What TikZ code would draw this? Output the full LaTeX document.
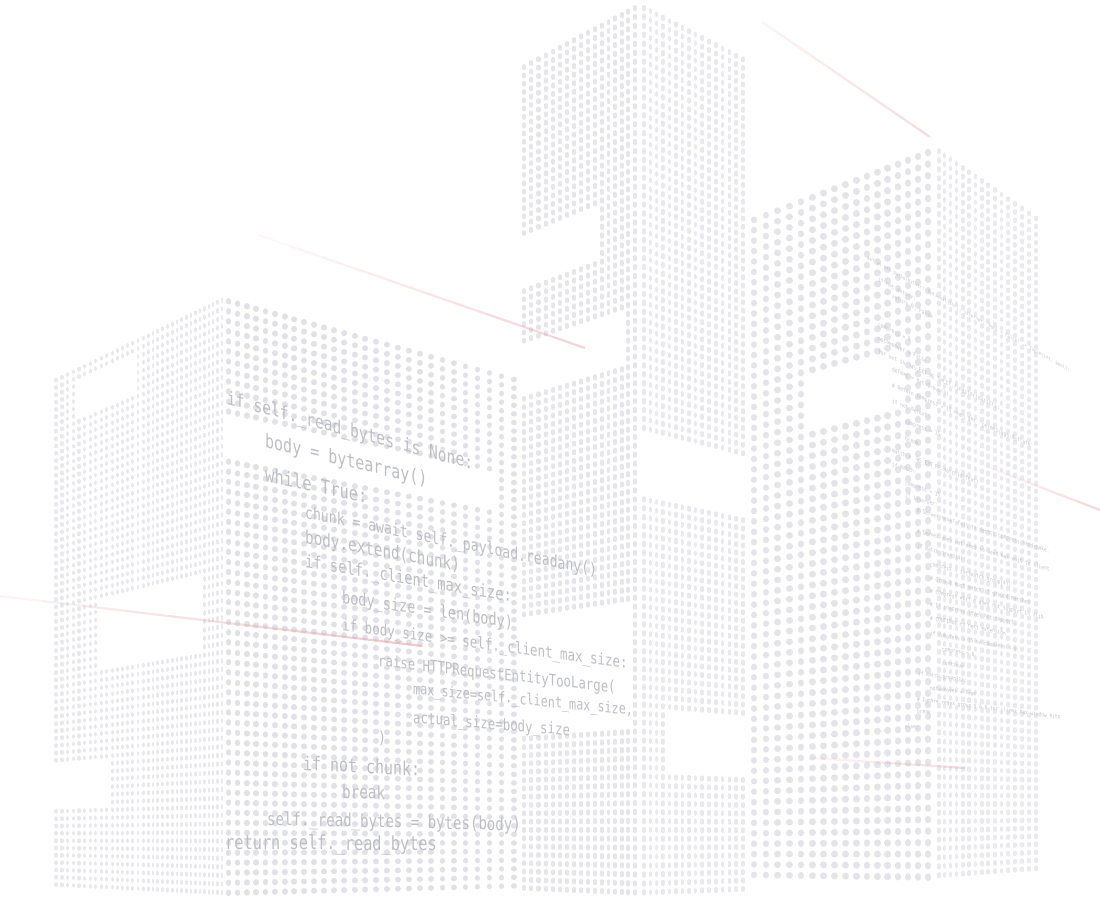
\documentclass[tikz,border=0pt]{standalone}
\usepackage{fontspec}
\newfontfamily\codefont[FakeStretch=0.78]{DejaVu Sans Mono}
\usetikzlibrary{calc}
\definecolor{dA1}{RGB}{232,232,237}
\definecolor{dA2}{RGB}{225,225,231}
\definecolor{dB1}{RGB}{229,229,234}
\definecolor{dB2}{RGB}{232,232,237}
\definecolor{dC1}{RGB}{228,228,233}
\definecolor{dC2}{RGB}{233,233,238}
\definecolor{txtL}{RGB}{190,191,198}
\definecolor{txtR}{RGB}{196,196,203}
\definecolor{redc}{RGB}{228,160,165}
% face geometry: x0 x1 top0 top1 bot0 bot1 ncols nrows
\newcommand\setface[8]{%
  \gdef\Fxa{#1}\gdef\Fxb{#2}\gdef\Fta{#3}\gdef\Ftb{#4}\gdef\Fba{#5}\gdef\Fbb{#6}\gdef\Fnc{#7}\gdef\Fnr{#8}%
  \pgfmathsetmacro\Frr{(#6-#4)/(#5-#3)}\global\let\Frr\Frr}
\newcommand\faceX[2]{\pgfmathsetmacro#2{\Fxa+(\Fxb-\Fxa)*(#1)*\Frr/((1-(#1))+(#1)*\Frr)}}
\newcommand\drawface[3]{%
  \pgfmathtruncatemacro\Flast{\Fnc-1}%
  \foreach \ci in {0,...,\Flast}{%
    \faceX{(\ci+0.5)/\Fnc}\Fxc
    \faceX{\ci/\Fnc}\Fxl
    \faceX{(\ci+1)/\Fnc}\Fxr
    \pgfmathsetmacro\Fq{(\Fxc-\Fxa)/(\Fxb-\Fxa)}%
    \pgfmathsetmacro\Ftop{\Fta+(\Ftb-\Fta)*\Fq}%
    \pgfmathsetmacro\Fbot{\Fba+(\Fbb-\Fba)*\Fq}%
    \pgfmathsetmacro\Fs{(\Fbot-\Ftop)/\Fnr}%
    \pgfmathsetmacro\Fw{#1*(\Fxr-\Fxl)}%
    \pgfmathsetmacro\Fh{#2*\Fs}%
    \pgfmathsetmacro\Flw{min(\Fw,\Fh)}%
    \pgfmathsetmacro\Fon{max(\Fh-\Flw,0.02)}%
    \pgfmathsetmacro\Foff{\Fs-\Fon}%
    \pgfmathsetmacro\Fys{\Ftop+\Fs/2-\Fon/2}%
    \pgfmathsetmacro\Fye{\Fbot-\Fs/2+\Fon/2+0.3*\Foff}%
    \draw[#3, line width=\Flw pt, line cap=round, dash pattern=on \Fon pt off \Foff pt] (\Fxc,\Fys) -- (\Fxc,\Fye);
  }}
% window: xa xb ytop ybot (y measured at xa)
\newcommand\facewin[4]{%
  \pgfmathsetmacro\Wua{(#1-\Fxa)/((#1-\Fxa)+\Frr*(\Fxb-(#1)))}%
  \pgfmathsetmacro\Wub{(#2-\Fxa)/((#2-\Fxa)+\Frr*(\Fxb-(#2)))}%
  \pgfmathsetmacro\Wua{round(\Wua*\Fnc)/\Fnc}%
  \pgfmathsetmacro\Wub{round(\Wub*\Fnc)/\Fnc}%
  \faceX{\Wua}\Wxa
  \faceX{\Wub}\Wxb
  \pgfmathsetmacro\Wq{(#1-\Fxa)/(\Fxb-\Fxa)}%
  \pgfmathsetmacro\Wt{\Fta+(\Ftb-\Fta)*\Wq}%
  \pgfmathsetmacro\Wb{\Fba+(\Fbb-\Fba)*\Wq}%
  \pgfmathsetmacro\Wva{round((#3-\Wt)/(\Wb-\Wt)*\Fnr)/\Fnr}%
  \pgfmathsetmacro\Wvb{round((#4-\Wt)/(\Wb-\Wt)*\Fnr)/\Fnr}%
  \pgfmathsetmacro\Wqa{(\Wxa-\Fxa)/(\Fxb-\Fxa)}%
  \pgfmathsetmacro\Wqb{(\Wxb-\Fxa)/(\Fxb-\Fxa)}%
  \pgfmathsetmacro\WtA{\Fta+(\Ftb-\Fta)*\Wqa}\pgfmathsetmacro\WbA{\Fba+(\Fbb-\Fba)*\Wqa}%
  \pgfmathsetmacro\WtB{\Fta+(\Ftb-\Fta)*\Wqb}\pgfmathsetmacro\WbB{\Fba+(\Fbb-\Fba)*\Wqb}%
  \fill[white] (\Wxa,{\WtA+\Wva*(\WbA-\WtA)}) -- (\Wxb,{\WtB+\Wva*(\WbB-\WtB)})
     -- (\Wxb,{\WtB+\Wvb*(\WbB-\WtB)}) -- (\Wxa,{\WtA+\Wvb*(\WbA-\WtA)}) -- cycle;}
% red line with fading
\newcommand\redline[4]{%
  \foreach \k in {0,...,9}{%
    \pgfmathsetmacro\ka{\k/10}\pgfmathsetmacro\kb{(\k+1)/10}%
    \pgfmathsetmacro\ko{#3+(#4-#3)*(\k+0.5)/10}%
    \draw[redl, opacity=\ko] ($(#1)!\ka!(#2)$) -- ($(#1)!\kb!(#2)$);}}
% code lines (upright letters, sheared baseline as in perspective)
\newcommand\codeL[5]{%
  \pgfmathsetmacro\Lsl{tan(15-(#3-400)*14.5/450)}%
  \pgfmathsetmacro\Lfs{20*#4}%
  \node[codeleft, yslant=-\Lsl, font=\codefont\fontsize{\Lfs}{\Lfs}\selectfont] (#1) at (#2,#3) {#5};}
\newcommand\codeR[5]{%
  \pgfmathsetmacro\Rsl{0.56-(#3-257)*0.00097}%
  \node[coderight, yslant=-\Rsl, font=\codefont\fontsize{#4}{#4}\selectfont] (#1) at (#2,#3) {#5};}
\tikzset{
  codeleft/.style={anchor=base west, inner sep=0pt, text=txtL},
  coderight/.style={anchor=base west, inner sep=0pt, text=txtR},
  redl/.style={draw=redc, line width=2.2pt}
}
\begin{document}
\begin{tikzpicture}[x=1pt,y={(0pt,-1pt)}]
\useasboundingbox (0,0) rectangle (1100,904);
\fill[white] (0,0) rectangle (1100,904);
% Building A, left face
\setface{53}{224}{378}{295}{888}{897}{34}{70}
\drawface{0.58}{0.64}{dA1}
\facewin{77}{138}{381}{422}
\facewin{100}{203}{600}{668}
\facewin{53}{110}{762}{808}
% Building A, right face
\setface{224}{520}{295}{377}{898}{890}{28}{60}
\drawface{0.62}{0.64}{dA2}
\facewin{224}{490}{420}{460}
% Building B, left face
\setface{520}{638}{65}{2}{892}{897}{17}{100}
\drawface{0.58}{0.7}{dB1}
\facewin{520}{600}{240}{285}
\facewin{520}{627}{343}{397}
\facewin{520}{632}{620}{736}
% Building B, right face
\setface{641}{747}{2}{57}{897}{893}{16}{100}
\drawface{0.56}{0.7}{dB2}
\facewin{641}{747}{433}{490}
\facewin{667}{747}{712}{775}
% Building C, left face
\setface{748}{933}{217}{145}{880}{883}{17}{64}
\drawface{0.64}{0.64}{dC1}
\facewin{803}{905}{380}{432}
% Building C, right face
\setface{936}{1040}{145}{217}{880}{872}{16}{82}
\drawface{0.55}{0.68}{dC2}
% red light streaks
\coordinate (r1a) at (762,22);  \coordinate (r1b) at (930,137);
\coordinate (r2a) at (258,235); \coordinate (r2b) at (585,348);
\coordinate (r3a) at (0,596);   \coordinate (r3b) at (422,646);
\coordinate (r4a) at (985,466); \coordinate (r4b) at (1100,510);
\coordinate (r5a) at (812,758); \coordinate (r5b) at (965,768);
\redline{r1a}{r1b}{0.12}{0.35}
\redline{r2a}{r2b}{0.04}{0.45}
\redline{r3a}{r3b}{0.10}{0.55}
\redline{r4a}{r4b}{0.05}{0.40}
\redline{r5a}{r5b}{0.10}{0.35}
% left code
\codeL{L1}{227}{404}{0.935}{if self.\_read\_bytes is None:}
\codeL{L2}{265}{447}{0.96}{body = bytearray()}
\codeL{L3}{265}{481}{0.99}{while True:}
\codeL{L4}{305}{518}{0.84}{chunk = await self.\_payload.readany()}
\codeL{L5}{305}{543}{0.915}{body.extend(chunk)}
\codeL{L6}{305}{567}{0.88}{if self.\_client\_max\_size:}
\codeL{L7}{342}{603}{0.866}{body\_size = len(body)}
\codeL{L8}{342}{630}{0.80}{if body\_size >= self.\_client\_max\_size:}
\codeL{L9}{378}{666}{0.79}{raise HTTPRequestEntityTooLarge(}
\codeL{L10}{413}{694}{0.755}{max\_size=self.\_client\_max\_size,}
\codeL{L11}{413}{723}{0.795}{actual\_size=body\_size}
\codeL{L12}{378}{743}{0.85}{)}
\codeL{L13}{303}{770}{0.957}{if not chunk:}
\codeL{L14}{342}{798}{0.915}{break}
\codeL{L15}{267}{825}{0.9}{self.\_read\_bytes = bytes(body)}
\codeL{L16}{225}{849}{0.98}{return self.\_read\_bytes}
% right code
\codeR{R1}{867}{259}{5.1}{def ws\_ext\_parse(extstr: Optional[str], isserver: bool = False) -> Tuple[int, bool]:}
\codeR{R2}{878}{281}{5.75}{if not extstr:}
\codeR{R3}{892}{298}{5.75}{return 0, False}
\codeR{R4}{878}{326}{5.75}{compress = 0}
\codeR{R5}{878}{340}{5.75}{notakeover = False}
\codeR{R6}{878}{353}{5.75}{for ext in \_WS\_EXT\_RE\_SPLIT.finditer(extstr):}
\codeR{R7}{892}{371}{5.75}{defext = ext.group(1)}
\codeR{R8}{892}{387}{5.75}{\# Return compress = 15 when get \textasciigrave permessage-deflate\textasciigrave}
\codeR{R9}{892}{403}{5.75}{if not defext:}
\codeR{R10}{905}{423}{5.75}{compress = 15}
\codeR{R11}{905}{440}{5.75}{break}
\codeR{R12}{892}{452}{5.75}{match = \_WS\_EXT\_RE.match(defext)}
\codeR{R13}{892}{466}{5.75}{if match:}
\codeR{R14}{905}{485}{5.75}{compress = 15}
\codeR{R15}{905}{497}{5.75}{if isserver:}
\codeR{R16}{917}{512}{5.75}{\# Server never fail to detect compress handshake.}
\codeR{R17}{917}{533}{5.75}{\# Server does not need to send max wbit to client}
\codeR{R18}{917}{548}{5.75}{if match.group(4):}
\codeR{R19}{930}{566}{5.75}{compress = int(match.group(4))}
\codeR{R20}{930}{580}{5.75}{\# Group3 must match if group4 matches}
\codeR{R21}{930}{593}{5.75}{\# Compress wbit 8 does not support in zlib}
\codeR{R22}{930}{606}{5.75}{\# If compress level not support,}
\codeR{R23}{930}{620}{5.75}{\# CONTINUE to next extension}
\codeR{R24}{930}{635}{5.75}{if compress > 15 or compress < 9:}
\codeR{R25}{942}{651}{5.75}{compress = 0}
\codeR{R26}{942}{665}{5.75}{continue}
\codeR{R27}{918}{675}{5.75}{if match.group(1):}
\codeR{R28}{930}{690}{5.75}{notakeover = True}
\codeR{R29}{917}{701}{5.75}{\# Ignore regex group 5 \& 6 for client\_max\_window\_bits}
\codeR{R30}{917}{713}{5.75}{break}
\codeR{R31}{905}{728}{5.75}{else:}
\end{tikzpicture}
\end{document}
